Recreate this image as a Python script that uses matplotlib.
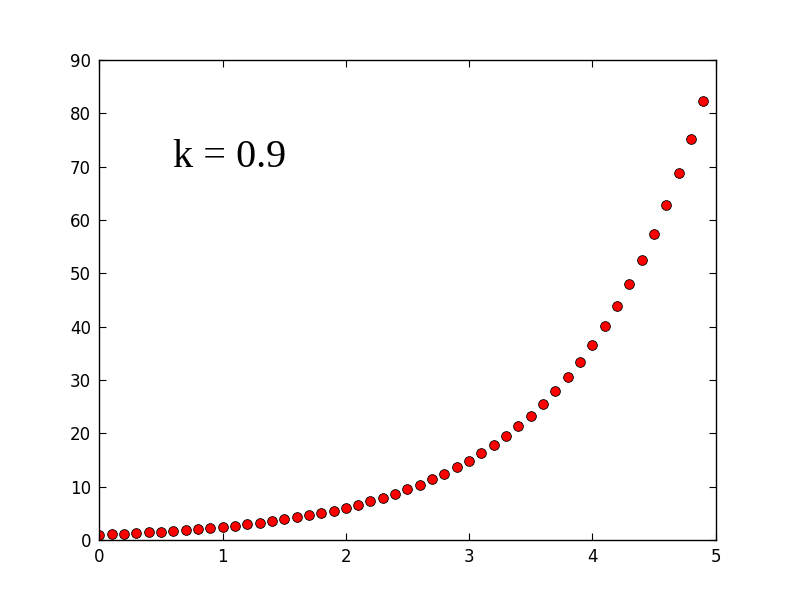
import matplotlib
matplotlib.use("Agg")
import matplotlib.pyplot as plt

# x positions and values (k = 0.9)
x_vals = [0.0, 0.1, 0.2, 0.3, 0.4, 0.5, 0.6, 0.7, 0.8, 0.9,
          1.0, 1.1, 1.2, 1.3, 1.4, 1.5, 1.6, 1.7, 1.8, 1.9,
          2.0, 2.1, 2.2, 2.3, 2.4, 2.5, 2.6, 2.7, 2.8, 2.9,
          3.0, 3.1, 3.2, 3.3, 3.4, 3.5, 3.6, 3.7, 3.8, 3.9,
          4.0, 4.1, 4.2, 4.3, 4.4, 4.5, 4.6, 4.7, 4.8, 4.9]
y_vals = [1.00, 1.09, 1.20, 1.31, 1.43, 1.57, 1.72, 1.88, 2.05, 2.25,
          2.46, 2.69, 2.95, 3.22, 3.53, 3.86, 4.22, 4.62, 5.05, 5.53,
          6.05, 6.62, 7.24, 7.93, 8.67, 9.49, 10.38, 11.36, 12.43, 13.60,
          14.88, 16.28, 17.81, 19.49, 21.33, 23.34, 25.53, 27.94, 30.57, 33.45,
          36.60, 40.04, 43.82, 47.94, 52.46, 57.40, 62.80, 68.72, 75.19, 82.27]
label_text = "k = 0.9"

fig = plt.figure(figsize=(7.95, 6.0), dpi=100)
ax = fig.add_axes([0.125, 0.1, 0.775, 0.8])

ax.plot(x_vals, y_vals, "o", color="red", markeredgecolor="black",
        markeredgewidth=0.6, markersize=7)

ax.set_xlim(0, 5)
ax.set_ylim(0, 90)
ax.set_xticks([0, 1, 2, 3, 4, 5])
ax.set_yticks(range(0, 91, 10))
ax.tick_params(direction="in", top=True, right=True, length=5, labelsize=12, pad=6)
for s in ax.spines.values():
    s.set_linewidth(1.0)

ax.text(0.6, 70, label_text, fontsize=29, family="Liberation Serif")

fig.savefig("out.png", dpi=100)
